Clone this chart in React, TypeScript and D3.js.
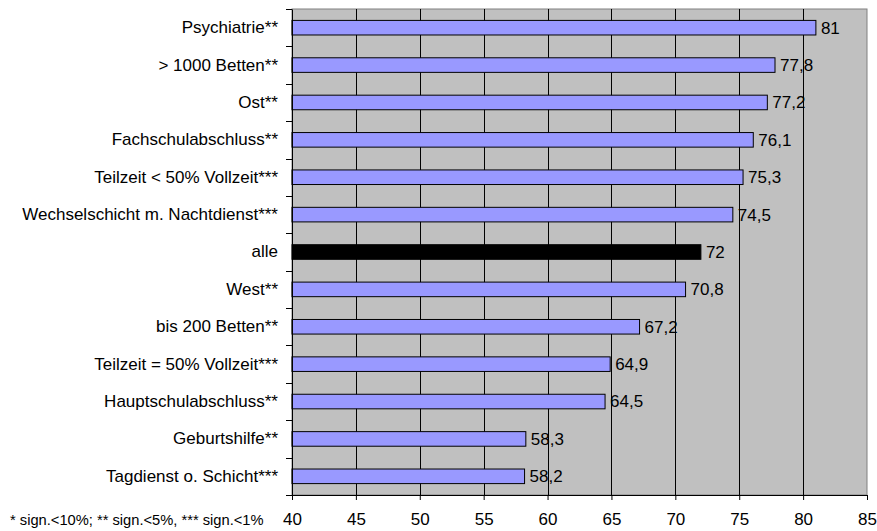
import * as d3 from 'd3';
import { useEffect, useRef } from 'react';

const categories = [
    'Psychiatrie**',
    '> 1000 Betten**',
    'Ost**',
    'Fachschulabschluss**',
    'Teilzeit < 50% Vollzeit***',
    'Wechselschicht m. Nachtdienst***',
    'alle',
    'West**',
    'bis 200 Betten**',
    'Teilzeit = 50% Vollzeit***',
    'Hauptschulabschluss**',
    'Geburtshilfe**',
    'Tagdienst o. Schicht***',
];
const values = [81, 77.8, 77.2, 76.1, 75.3, 74.5, 72, 70.8, 67.2, 64.9, 64.5, 58.3, 58.2];
const xTicks = [40, 45, 50, 55, 60, 65, 70, 75, 80, 85];
const footnote = '* sign.<10%; ** sign.<5%, *** sign.<1%';
const highlight = 'alle';

export default function App() {
    const ref = useRef<SVGSVGElement | null>(null);

    useEffect(() => {
        const svg = d3.select(ref.current);
        svg.selectAll('*').remove();

        const width = 877;
        const height = 531;
        const margin = { top: 9, right: 10, bottom: 36, left: 292 };
        const font = 'Liberation Sans, Arial, sans-serif';

        const x = d3.scaleLinear()
            .domain([40, 85])
            .range([margin.left, width - margin.right]);

        const y = d3.scaleBand()
            .domain(categories)
            .range([margin.top, height - margin.bottom])
            .paddingInner(0.61)
            .paddingOuter(0.305);

        const yAll = d3.scaleBand()
            .domain(categories)
            .range([margin.top, height - margin.bottom]);

        svg.attr('width', width).attr('height', height);

        // plot background
        svg.append('rect')
            .attr('x', x(40))
            .attr('y', margin.top)
            .attr('width', x(85) - x(40))
            .attr('height', height - margin.bottom - margin.top)
            .attr('fill', '#c0c0c0')
            .attr('stroke', '#808080')
            .attr('stroke-width', 1);

        // vertical grid
        svg.append('g')
            .selectAll('line')
            .data(xTicks.slice(1, -1))
            .enter()
            .append('line')
            .attr('x1', d => Math.round(x(d)) + 0.5)
            .attr('x2', d => Math.round(x(d)) + 0.5)
            .attr('y1', margin.top)
            .attr('y2', height - margin.bottom)
            .attr('stroke', '#000')
            .attr('stroke-width', 1);

        // bars
        svg.append('g')
            .selectAll('rect')
            .data(categories)
            .enter()
            .append('rect')
            .attr('x', x(40))
            .attr('y', d => y(d)!)
            .attr('width', (d, i) => x(values[i]) - x(40))
            .attr('height', y.bandwidth())
            .attr('fill', d => d === highlight ? '#000' : '#9999ff')
            .attr('stroke', '#000')
            .attr('stroke-width', 1);

        // value labels
        svg.append('g')
            .selectAll('text')
            .data(categories)
            .enter()
            .append('text')
            .attr('x', (d, i) => x(values[i]) + 5)
            .attr('y', d => y(d)! + y.bandwidth() / 2)
            .attr('dy', '0.35em')
            .attr('font-family', font)
            .attr('font-size', 17)
            .text((d, i) => String(values[i]).replace('.', ','));

        // left axis
        const yAxis = d3.axisLeft(yAll).tickSize(0).tickPadding(14);
        const gy = svg.append('g')
            .attr('transform', `translate(${x(40)},0)`)
            .call(yAxis);
        gy.select('.domain').attr('stroke', '#000');
        gy.selectAll('.tick text')
            .attr('font-family', font)
            .attr('font-size', 17)
            .attr('fill', '#000');
        // category boundary ticks
        gy.selectAll('.bound')
            .data(d3.range(categories.length + 1))
            .enter()
            .append('line')
            .attr('x1', -6)
            .attr('x2', 0)
            .attr('y1', i => Math.round(margin.top + i * yAll.step()) + 0.5)
            .attr('y2', i => Math.round(margin.top + i * yAll.step()) + 0.5)
            .attr('stroke', '#000');

        // bottom axis
        const gx = svg.append('g')
            .attr('transform', `translate(0,${height - margin.bottom})`)
            .call(d3.axisBottom(x).tickValues(xTicks).tickSize(5).tickPadding(13).tickSizeOuter(0));
        gx.select('.domain').attr('stroke', '#000');
        gx.selectAll('.tick line').attr('stroke', '#000');
        gx.selectAll('.tick text')
            .attr('font-family', font)
            .attr('font-size', 17)
            .attr('fill', '#000');

        svg.append('text')
            .attr('x', 10)
            .attr('y', 525)
            .attr('font-family', font)
            .attr('font-size', 14.7)
            .text(footnote);
    }, []);

    return <svg ref={ref} style={{ position: 'absolute', left: 0, top: 0 }}></svg>;
}
